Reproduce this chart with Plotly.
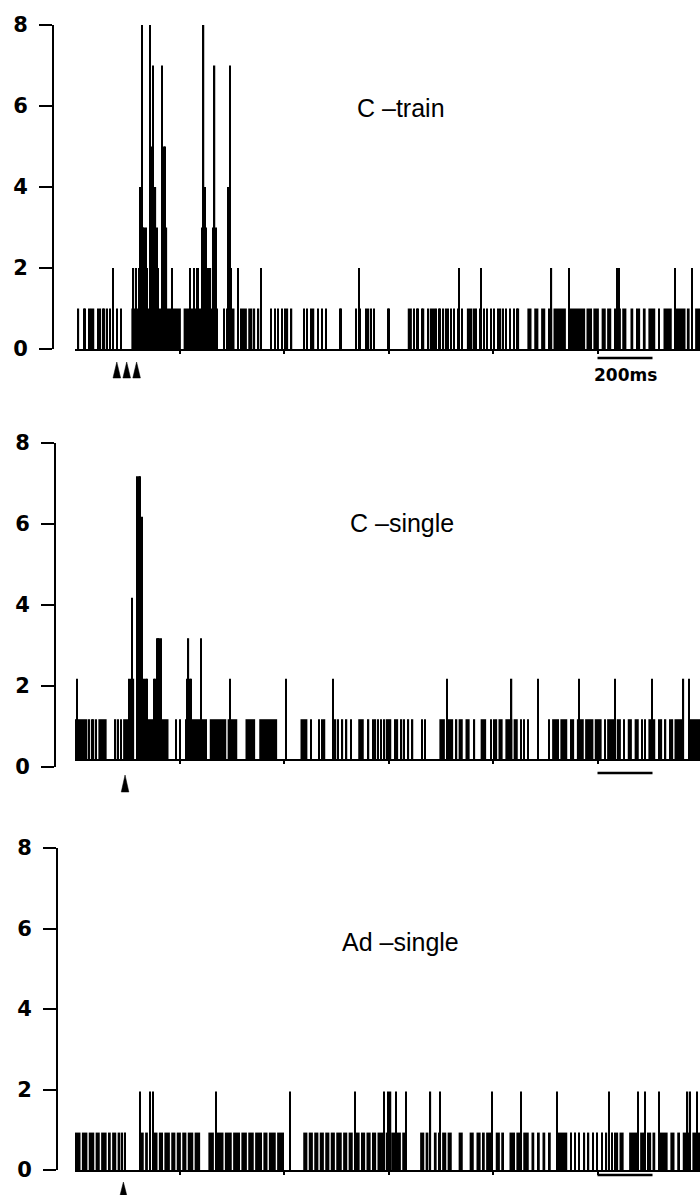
import plotly.graph_objects as go

# ---------------- data: peristimulus histograms, 5-ms bins, time in ms ----------------
bin_ms = 5

# C-train
p1_spike_t = [135, 210, 220, 230, 235, 240, 245, 250, 255, 260, 270, 275, 280, 285, 290, 295, 300, 315, 320, 325,
              330, 350, 415, 430, 440, 445, 460, 465, 470, 475, 480, 490, 500, 505, 510, 555, 560, 565, 590, 675,
              1030, 1395, 1475, 1730, 1795, 1970, 1975, 2180, 2240]
p1_spike_n = [2, 2, 2, 2, 4, 8, 3, 3, 3, 2, 8, 5, 7, 4, 4, 3, 2, 7, 5, 5,
              3, 2, 2, 2, 2, 2, 3, 8, 4, 3, 2, 2, 3, 7, 3, 4, 7, 2, 2, 2,
              2, 2, 2, 2, 2, 2, 2, 2, 2]
p1_single_t = [10, 30, 35, 50, 55, 65, 80, 90, 100, 105, 115, 125, 150, 165, 540, 550, 650, 665, 710, 725,
               735, 750, 760, 770, 785, 830, 840, 855, 865, 880, 895, 910, 960, 965, 1020, 1035, 1055, 1065, 1075, 1085,
               1135, 1140, 1230, 1240, 1245, 1260, 1265, 1280, 1310, 1320, 1325, 1335, 1365, 1375, 1390, 1405, 1450, 1455,
               1470, 1485, 1495, 1510, 1520, 1535, 1545, 1555, 1565, 1580, 1595, 1605, 1610, 2120]
p1_run_start = [205, 395, 560, 600, 630, 1210, 1290, 1345, 1425, 1645, 1670, 1695, 1720, 1740, 1800, 1860, 1885, 1915,
                1935, 1960, 1990, 2020, 2040, 2065, 2085, 2140, 2185, 2225, 2255]
p1_run_end = [385, 520, 580, 625, 645, 1225, 1310, 1360, 1445, 1660, 1685, 1710, 1735, 1785, 1855, 1880, 1905, 1930,
              1950, 1985, 2005, 2030, 2055, 2075, 2110, 2170, 2220, 2235, 2273]
p1_stim_t = [152, 188, 224]

# C-single (histogram drawn on a raised baseline)
p2_base = 0.18
p2_spike_t = [5, 195, 200, 205, 210, 225, 230, 235, 240, 250, 255, 260, 285, 290, 295, 300, 305, 310, 405, 410,
              415, 420, 455, 560, 765, 935, 1350, 1585, 1680, 1830, 1960, 2095, 2210, 2230]
p2_spike_n = [2, 2, 2, 4, 2, 7, 7, 7, 6, 2, 2, 2, 2, 2, 3, 3, 3, 3, 2, 3,
              2, 2, 3, 2, 2, 2, 2, 2, 2, 2, 2, 2, 2, 2]
p2_single_t = [50, 60, 65, 75, 145, 155, 165, 365, 380, 855, 885, 895, 905, 945, 955, 970, 985, 1000, 1065, 1080,
               1090, 1100, 1110, 1120, 1185, 1195, 1210, 1225, 1260, 1270, 1385, 1450, 1510, 1520, 1530, 1620, 1630,
               1645, 1720, 1925, 1995, 2060, 2070, 2120, 2130, 2145, 2160, 2170]
p2_run_start = [0, 85, 175, 245, 315, 400, 490, 555, 620, 670, 820, 1030, 1130, 1160, 1325, 1355, 1395, 1420, 1475,
                1540, 1565, 1595, 1735, 1765, 1800, 1825, 1855, 1890, 1935, 1970, 2010, 2035, 2085, 2180, 2230]
p2_run_end = [45, 115, 200, 285, 340, 480, 550, 590, 655, 735, 845, 1050, 1150, 1175, 1345, 1375, 1410, 1435, 1495,
              1555, 1590, 1610, 1760, 1790, 1815, 1850, 1885, 1915, 1960, 1985, 2025, 2050, 2110, 2210, 2273]
p2_stim_t = [182]

# Ad-single (bar heights)
p3_one = 0.93
p3_spike_t = [235, 270, 280, 510, 780, 1015, 1120, 1135, 1145, 1165, 1200, 1290, 1325, 1515, 1620, 1750, 1940,
              2045, 2070, 2120, 2225, 2235, 2260]
p3_spike_h = [1.95, 1.95, 1.95, 1.95, 1.95, 1.95, 1.95, 1.95, 1.95, 1.95, 1.95, 1.95, 1.95, 1.95, 1.95, 1.95, 1.95,
              1.95, 1.95, 1.95, 1.95, 1.95, 1.95]
p3_single_t = [170, 180, 1800, 1815, 1830, 1850, 1865, 1880, 1895, 1915, 1930, 1950]
p3_run_start = [0, 25, 50, 75, 95, 120, 135, 155, 240, 255, 285, 305, 325, 350, 370, 390, 410, 435, 485, 515, 545,
                575, 605, 630, 655, 685, 705, 735, 830, 850, 870, 890, 910, 930, 950, 975, 995, 1020, 1040, 1060,
                1080, 1100, 1130, 1150, 1170, 1190, 1255, 1275, 1305, 1320, 1335, 1355, 1395, 1435, 1460, 1480, 1495,
                1530, 1550, 1580, 1605, 1630, 1660, 1680, 1700, 1720, 1755, 1960, 1980, 2015, 2055, 2080, 2100, 2125,
                2165, 2190, 2210, 2245]
p3_run_end = [20, 45, 70, 90, 115, 130, 150, 165, 250, 265, 300, 320, 345, 365, 385, 405, 430, 455, 505, 540, 570,
              600, 625, 650, 680, 700, 730, 760, 845, 865, 885, 905, 925, 945, 970, 990, 1010, 1035, 1055, 1075,
              1095, 1125, 1145, 1165, 1185, 1200, 1270, 1285, 1315, 1330, 1350, 1370, 1410, 1450, 1475, 1490, 1520,
              1545, 1560, 1600, 1625, 1650, 1670, 1690, 1710, 1730, 1790, 1975, 1995, 2050, 2070, 2095, 2110, 2155,
              2180, 2200, 2240, 2273]
p3_stim_t = [176]

y_ticks = [0, 2, 4, 6, 8]
x_ticks_ms = [380, 760, 1140, 1520, 1900]
scale_bar_ms = [1900, 2100]
scale_label = "200ms"

# ---------------- layout constants ----------------
W, H = 700, 1195
PX_PER_MS = 0.275
X0_PX = 75
x_range = [0, (W - X0_PX) / PX_PER_MS]
x_dom = [X0_PX / W, 1.0]

panels = [
    dict(label="C \u2013train", spike_t=p1_spike_t, spike_h=p1_spike_n, single_t=p1_single_t,
         run_s=p1_run_start, run_e=p1_run_end, one=1.0, base=0.0, stim=p1_stim_t,
         y_px=(25, 349), axis_px=53, strip_top=351, strip_h=42, tip=11, tri_base=27, bar_y=7,
         label_px=(355, 108), scale_text=True, free_x=False),
    dict(label="C \u2013single", spike_t=p2_spike_t, spike_h=p2_spike_n, single_t=p2_single_t,
         run_s=p2_run_start, run_e=p2_run_end, one=1.0, base=p2_base, stim=p2_stim_t,
         y_px=(443, 767), axis_px=55, strip_top=769, strip_h=42, tip=6, tri_base=23, bar_y=4,
         label_px=(348, 523), scale_text=False, free_x=True),
    dict(label="Ad \u2013single", spike_t=p3_spike_t, spike_h=p3_spike_h, single_t=p3_single_t,
         run_s=p3_run_start, run_e=p3_run_end, one=p3_one, base=0.0, stim=p3_stim_t,
         y_px=(848, 1170), axis_px=57, strip_top=1172, strip_h=23, tip=10, tri_base=25, bar_y=3,
         label_px=(340, 942), scale_text=False, free_x=False),
]

fig = go.Figure()
layout = dict(width=W, height=H, margin=dict(l=0, r=0, t=0, b=0, autoexpand=False), paper_bgcolor="white",
              plot_bgcolor="rgba(0,0,0,0)", showlegend=False, barmode="overlay", annotations=[])

bar_style = dict(marker=dict(color="black", line=dict(width=0)), hoverinfo="skip", showlegend=False)

for i, p in enumerate(panels):
    k = 2 * i + 1
    s = k + 1
    xa, ya = ("x" if k == 1 else f"x{k}"), ("y" if k == 1 else f"y{k}")
    xs, ys = f"x{s}", f"y{s}"
    top_px, bot_px = p["y_px"]
    ydom = [1 - bot_px / H, 1 - top_px / H]

    # runs of consecutive 1-count bins
    fig.add_trace(go.Bar(x=[(a + b) / 2 for a, b in zip(p["run_s"], p["run_e"])],
                         y=[p["one"] for _ in p["run_s"]],
                         width=[b - a for a, b in zip(p["run_s"], p["run_e"])],
                         base=p["base"], xaxis=xa, yaxis=ya, **bar_style))
    # isolated 1-count bins
    fig.add_trace(go.Bar(x=[t + bin_ms / 2 for t in p["single_t"]], y=[p["one"] for _ in p["single_t"]],
                         width=bin_ms, base=p["base"], xaxis=xa, yaxis=ya, **bar_style))
    # taller bins
    fig.add_trace(go.Bar(x=[t + bin_ms / 2 for t in p["spike_t"]], y=p["spike_h"],
                         width=bin_ms, base=p["base"], xaxis=xa, yaxis=ya, **bar_style))

    xaxis = dict(domain=x_dom, range=x_range, showline=True, linecolor="black", linewidth=1.8,
                 ticks="outside", ticklen=3, tickwidth=1.5, tickcolor="black", tickvals=x_ticks_ms,
                 showticklabels=False, showgrid=False, zeroline=False)
    if p["free_x"]:
        xaxis.update(anchor="free", position=ydom[0] + p["base"] / 8 * (ydom[1] - ydom[0]))
    else:
        xaxis.update(anchor=ya)
    layout["xaxis" if k == 1 else f"xaxis{k}"] = xaxis
    layout["yaxis" if k == 1 else f"yaxis{k}"] = dict(
        domain=ydom, range=[0, 8], anchor="free", position=p["axis_px"] / W,
        showline=True, linecolor="black", linewidth=2, ticks="outside", ticklen=13, tickwidth=2,
        tickcolor="black", tickvals=y_ticks, ticktext=[str(v) for v in y_ticks],
        tickfont=dict(family="DejaVu Sans", size=21, color="black", weight="bold"),
        ticklabelstandoff=7, showgrid=False, zeroline=False)

    # strip under the panel: stimulus arrows and time scale bar
    st, sh = p["strip_top"], p["strip_h"]
    sdom = [max(0.0, 1 - (st + sh) / H), 1 - st / H]
    layout[f"xaxis{s}"] = dict(domain=x_dom, range=x_range, anchor=ys, visible=False)
    layout[f"yaxis{s}"] = dict(domain=sdom, range=[sh, 0], anchor=xs, visible=False)
    hw = 3.8 / PX_PER_MS
    for t in p["stim"]:
        fig.add_trace(go.Scatter(x=[t - hw, t, t + hw, t - hw],
                                 y=[p["tri_base"], p["tip"], p["tri_base"], p["tri_base"]],
                                 fill="toself", fillcolor="black", mode="lines",
                                 line=dict(color="black", width=0.5), xaxis=xs, yaxis=ys,
                                 hoverinfo="skip", showlegend=False))
    fig.add_trace(go.Scatter(x=scale_bar_ms, y=[p["bar_y"], p["bar_y"]], mode="lines",
                             line=dict(color="black", width=2.5), xaxis=xs, yaxis=ys,
                             hoverinfo="skip", showlegend=False))
    if p["scale_text"]:
        layout["annotations"].append(dict(
            x=sum(scale_bar_ms) / 2, y=24, xref=xs, yref=ys, text=scale_label, showarrow=False,
            font=dict(family="DejaVu Sans", size=17, color="black", weight="bold"),
            xanchor="center", yanchor="middle"))

    lx, ly = p["label_px"]
    layout["annotations"].append(dict(
        x=lx / W, y=1 - ly / H, xref="paper", yref="paper", text=p["label"], showarrow=False,
        font=dict(family="Liberation Sans", size=25, color="black"), xanchor="left", yanchor="middle"))

fig.update_layout(**layout)
fig.write_html(
    "out.html",
    config={"responsive": False, "displayModeBar": False},
    post_script="document.body.style.margin='0';document.body.style.padding='0';"
                "document.documentElement.style.overflow='hidden';",
)
